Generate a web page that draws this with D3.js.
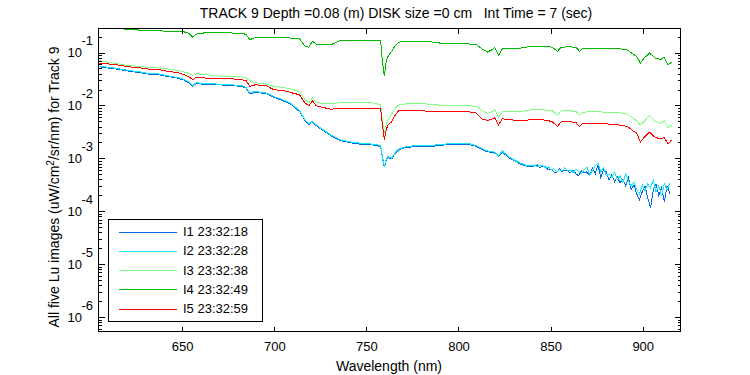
<!DOCTYPE html>
<html>
<head>
<meta charset="utf-8">
<script src="https://cdn.jsdelivr.net/npm/d3@7"></script>
<style>
    body { margin: 0; background: #fff; }
    text { font-family: "Liberation Sans", Arial, sans-serif; font-size: 13px; fill: #000; }
</style>
</head>
<body>
<div id="chart"></div>
<script>
// wavelength grid (nm) shared by I3, I4, I5
const wavelengths = [605, 611, 616, 621, 627, 632, 638, 643, 648, 651,
    654, 656, 658, 663, 670, 677, 683, 685, 687, 690,
    696, 700, 705, 709, 714, 717, 719, 721, 723, 726,
    731, 736, 742, 748, 754, 758, 759, 760, 761, 762,
    764, 766, 768, 772, 778, 785, 792, 799, 805, 810,
    813, 816, 818, 820, 822, 824, 828, 834, 840, 846,
    851, 854, 856, 860, 864, 866, 868, 873, 880, 887,
    892, 895, 897, 899, 901, 904, 907, 910, 912, 914, 916];

// finer grid used by I1 and I2 (noisy tail)
const wavelengthsFine = [605, 611, 616, 621, 627, 632, 638, 643, 648, 651,
    654, 656, 658, 663, 670, 677, 683, 685, 687, 690,
    696, 700, 705, 709, 714, 717, 719, 721, 723, 726,
    731, 736, 742, 748, 754, 758, 759, 760, 761, 762,
    764, 766, 768, 772, 778, 785, 792, 799, 805, 810,
    813, 816, 818, 820, 822, 824, 828, 834, 838,
    840, 841.5, 843, 844.5, 846, 847.5, 849, 850.5, 852, 853.5,
    855, 856.5, 858, 859.5, 861, 862.5, 864, 865.5, 867, 868.5,
    870, 871.5, 873, 874.5, 876, 877.5, 879, 880.5, 882, 883.5,
    885, 886.5, 888, 889.5, 891, 892.5, 894, 895.5, 897, 898.5,
    900, 901.5, 903, 904.5, 906, 907.5, 909, 910.5, 912, 913.5, 915];

// Lu values (uW/cm^2/sr/nm)
const lu1 = [0.0530, 0.0495, 0.0470, 0.0438, 0.0410, 0.0382, 0.0370, 0.0342, 0.0320, 0.0298,
    0.0262, 0.0228, 0.0255, 0.0244, 0.0240, 0.0233, 0.0224, 0.0207, 0.0163, 0.0174,
    0.0162, 0.0140, 0.0120, 0.0105, 0.0075, 0.00508, 0.00425, 0.00470, 0.00408, 0.00343,
    0.00262, 0.00213, 0.00192, 0.00180, 0.00175, 0.00165, 0.00102, 0.000665, 0.00090, 0.00102,
    0.000955, 0.00123, 0.00143, 0.00158, 0.00165, 0.00164, 0.00175, 0.00180, 0.00182, 0.00165,
    0.00143, 0.00131, 0.00127, 0.00123, 0.00105, 0.00130, 0.00098, 0.000765, 0.000680,
    6.78e-4, 7.08e-4, 7.38e-4, 6.49e-4, 7.08e-4, 6.78e-4, 5.94e-4, 6.21e-4, 5.45e-4, 5.22e-4,
    6.21e-4, 5.45e-4, 5.94e-4, 5.69e-4, 5.22e-4, 5.94e-4, 5.00e-4, 4.58e-4, 5.69e-4, 5.22e-4,
    5.45e-4, 4.58e-4, 6.49e-4, 5.00e-4, 7.38e-4, 4.20e-4, 5.94e-4, 5.45e-4, 3.85e-4, 4.78e-4,
    3.53e-4, 4.38e-4, 3.38e-4, 4.02e-4, 2.96e-4, 4.20e-4, 2.49e-4, 3.09e-4, 2.09e-4, 1.61e-4,
    2.28e-4, 2.96e-4, 1.76e-4, 1.14e-4, 2.49e-4, 3.23e-4, 1.92e-4, 2.72e-4, 1.48e-4, 2.96e-4, 2.09e-4];

const lu2 = [0.0544, 0.0512, 0.0483, 0.0449, 0.0424, 0.0394, 0.0384, 0.0352, 0.0331, 0.0309,
    0.0271, 0.0234, 0.0263, 0.0252, 0.0248, 0.0241, 0.0231, 0.0214, 0.0168, 0.0180,
    0.0168, 0.0145, 0.0125, 0.0109, 0.0078, 0.00525, 0.0044, 0.00488, 0.00422, 0.00355,
    0.00271, 0.0022, 0.0020, 0.00187, 0.00182, 0.00171, 0.00106, 0.000687, 0.00093, 0.00106,
    0.000989, 0.00128, 0.00149, 0.00164, 0.00171, 0.00171, 0.00182, 0.00187, 0.0019, 0.00171,
    0.00149, 0.00136, 0.00132, 0.00128, 0.00109, 0.00136, 0.00102, 0.000796, 0.000706,
    7.08e-4, 7.38e-4, 6.78e-4, 7.38e-4, 7.08e-4, 6.49e-4, 6.78e-4, 5.94e-4, 6.21e-4, 5.45e-4,
    5.94e-4, 5.69e-4, 6.49e-4, 5.69e-4, 5.94e-4, 5.22e-4, 6.21e-4, 5.45e-4, 5.00e-4, 5.94e-4,
    6.78e-4, 4.78e-4, 5.69e-4, 7.08e-4, 8.05e-4, 5.45e-4, 6.49e-4, 4.58e-4, 5.00e-4, 4.20e-4,
    5.45e-4, 3.85e-4, 4.58e-4, 3.38e-4, 5.00e-4, 3.68e-4, 2.96e-4, 3.53e-4, 2.49e-4, 2.09e-4,
    3.09e-4, 2.38e-4, 3.23e-4, 2.72e-4, 3.85e-4, 2.28e-4, 2.96e-4, 1.92e-4, 3.23e-4, 2.49e-4, 3.38e-4];

const lu3 = [0.0685, 0.0636, 0.0593, 0.0558, 0.0535, 0.0512, 0.0498, 0.0477, 0.0449, 0.0424,
    0.0394, 0.0361, 0.0389, 0.0378, 0.0352, 0.0352, 0.0337, 0.0322, 0.0287, 0.0263,
    0.0248, 0.0224, 0.0214, 0.0202, 0.0180, 0.0125, 0.0109, 0.0135, 0.0113, 0.0107,
    0.0107, 0.0110, 0.0109, 0.0109, 0.0109, 0.0101, 0.00488, 0.00294, 0.00422, 0.00525,
    0.00672, 0.00873, 0.0101, 0.0105, 0.0105, 0.0104, 0.00975, 0.00975, 0.0097, 0.0094,
    0.0078, 0.00702, 0.0074, 0.0081, 0.0059, 0.0074, 0.0074, 0.00753, 0.0081, 0.0081,
    0.0078, 0.00632, 0.0078, 0.0078, 0.00753, 0.00632, 0.0073, 0.00753, 0.0073, 0.00723,
    0.0067, 0.0057, 0.0050, 0.00422, 0.00488, 0.00632, 0.00488, 0.00454, 0.0050, 0.00366, 0.00422];

const lu4 = [0.30, 0.278, 0.275, 0.270, 0.260, 0.256, 0.252, 0.246, 0.243, 0.242,
    0.225, 0.192, 0.218, 0.232, 0.232, 0.229, 0.224, 0.215, 0.171, 0.188,
    0.190, 0.192, 0.188, 0.184, 0.178, 0.128, 0.124, 0.159, 0.142, 0.137,
    0.137, 0.164, 0.166, 0.166, 0.168, 0.164, 0.066, 0.0346, 0.066, 0.0826,
    0.103, 0.133, 0.154, 0.159, 0.159, 0.156, 0.145, 0.143, 0.143, 0.137,
    0.115, 0.100, 0.108, 0.122, 0.0862, 0.114, 0.119, 0.119, 0.128, 0.128,
    0.124, 0.103, 0.123, 0.126, 0.123, 0.103, 0.119, 0.119, 0.117, 0.116,
    0.109, 0.0917, 0.0826, 0.0619, 0.077, 0.0957, 0.077, 0.0724, 0.079, 0.0575, 0.0647];

const lu5 = [0.0619, 0.0593, 0.0567, 0.0527, 0.0505, 0.0477, 0.0462, 0.0430, 0.0406, 0.0377,
    0.0341, 0.0299, 0.0337, 0.0322, 0.0320, 0.0313, 0.0299, 0.0287, 0.0224, 0.0241,
    0.0231, 0.0194, 0.0188, 0.0172, 0.0156, 0.0109, 0.00964, 0.0120, 0.00964, 0.0091,
    0.0083, 0.00873, 0.00873, 0.00873, 0.0085, 0.0084, 0.00422, 0.0022, 0.00339, 0.00422,
    0.0048, 0.00652, 0.0079, 0.0080, 0.0079, 0.00753, 0.0075, 0.0075, 0.00753, 0.00702,
    0.00539, 0.0051, 0.00539, 0.0057, 0.00422, 0.00548, 0.00525, 0.0051, 0.00525, 0.00525,
    0.00488, 0.00392, 0.00488, 0.00488, 0.00466, 0.00392, 0.00454, 0.00454, 0.0044, 0.00422,
    0.00392, 0.00325, 0.00294, 0.00200, 0.00244, 0.00307, 0.00244, 0.00229, 0.00244, 0.00182, 0.0022];

const seriesNames = ["I1 23:32:18", "I2 23:32:28", "I3 23:32:38", "I4 23:32:49", "I5 23:32:59"];
const seriesColors = ["#0a6cdc", "#14e6ff", "#80ff80", "#00bb00", "#ff0000"];
const xTicks = [650, 700, 750, 800, 850, 900];
const yDecades = [-6, -5, -4, -3, -2, -1];

const series = [
    {name: seriesNames[0], color: seriesColors[0], x: wavelengthsFine, y: lu1},
    {name: seriesNames[1], color: seriesColors[1], x: wavelengthsFine, y: lu2},
    {name: seriesNames[2], color: seriesColors[2], x: wavelengths, y: lu3},
    {name: seriesNames[3], color: seriesColors[3], x: wavelengths, y: lu4},
    {name: seriesNames[4], color: seriesColors[4], x: wavelengths, y: lu5}
];

const width = 750, height = 375;
const margin = {top: 28, right: 70, bottom: 44, left: 98};
const plotW = width - margin.left - margin.right;
const plotH = height - margin.top - margin.bottom;

const svg = d3.select("#chart").append("svg")
    .attr("width", width)
    .attr("height", height);

const x = d3.scaleLinear().domain([604.6, 920.5]).range([margin.left, margin.left + plotW]);
const y = d3.scaleLog().domain([Math.pow(10, -6.27), Math.pow(10, -0.546)])
    .range([margin.top + plotH, margin.top]);

// clip for data lines
svg.append("clipPath").attr("id", "clip")
    .append("rect")
    .attr("x", margin.left).attr("y", margin.top)
    .attr("width", plotW).attr("height", plotH);

const line = d3.line()
    .x(d => x(d[0]))
    .y(d => y(d[1]));

svg.append("g").attr("clip-path", "url(#clip)")
    .selectAll("path")
    .data(series)
    .enter().append("path")
    .attr("fill", "none")
    .attr("stroke", d => d.color)
    .attr("stroke-width", 1)
    .attr("shape-rendering", "crispEdges")
    .attr("d", d => line(d.x.map((w, i) => [w, d.y[i]])));

// box
const axes = svg.append("g").attr("shape-rendering", "crispEdges");
axes.append("rect")
    .attr("x", margin.left + 0.5).attr("y", margin.top + 0.5)
    .attr("width", plotW).attr("height", plotH)
    .attr("fill", "none").attr("stroke", "#000");

// x axis: inward ticks bottom and top
const xAxisB = d3.axisBottom(x).tickValues(xTicks).tickSize(-5).tickPadding(10);
const gxb = axes.append("g")
    .attr("transform", `translate(0.5,${margin.top + plotH + 0.5})`)
    .call(xAxisB);
gxb.select(".domain").remove();
gxb.selectAll("text").style("font-size", "13px").attr("font-family", null);

const xAxisT = d3.axisTop(x).tickValues(xTicks).tickSize(-5).tickFormat("");
const gxt = axes.append("g")
    .attr("transform", `translate(0.5,${margin.top + 0.5})`)
    .call(xAxisT);
gxt.select(".domain").remove();

// y axis: log ticks, major and minor, inward left and right
const minorVals = [];
const majorVals = [];
yDecades.forEach(e => {
    majorVals.push(Math.pow(10, e));
    for (let k = 2; k <= 9; k++) minorVals.push(k * Math.pow(10, e));
});
minorVals.push(6e-7, 7e-7, 8e-7, 9e-7);
const inY = v => v >= y.domain()[0] && v <= y.domain()[1];

[[d3.axisLeft, margin.left], [d3.axisRight, margin.left + plotW]].forEach(([fn, px]) => {
    const gMinor = axes.append("g")
        .attr("transform", `translate(${px + 0.5},0.5)`)
        .call(fn(y).tickValues(minorVals.filter(inY)).tickSize(-3).tickFormat(""));
    gMinor.select(".domain").remove();
    const gMajor = axes.append("g")
        .attr("transform", `translate(${px + 0.5},0.5)`)
        .call(fn(y).tickValues(majorVals).tickSize(-6).tickFormat(""));
    gMajor.select(".domain").remove();
});

// y tick labels as 10^n
const yLab = svg.append("g");
yDecades.forEach(e => {
    const py = y(Math.pow(10, e));
    yLab.append("text")
        .attr("x", 82).attr("y", py + 5)
        .attr("text-anchor", "end")
        .text("10");
    yLab.append("text")
        .attr("x", 81.5).attr("y", py - 7)
        .text(String(e));
});

// title and labels
svg.append("text")
    .attr("x", 396).attr("y", 18)
    .attr("text-anchor", "middle")
    .style("white-space", "pre")
    .style("font-size", "14px")
    .text("TRACK 9 Depth =0.08 (m) DISK size =0 cm   Int Time = 7 (sec)");

svg.append("text")
    .attr("x", margin.left + plotW / 2).attr("y", 371)
    .attr("text-anchor", "middle")
    .style("font-size", "14px")
    .text("Wavelength (nm)");

const yl = svg.append("text")
    .attr("transform", `translate(59,187) rotate(-90)`)
    .attr("text-anchor", "middle")
    .style("font-size", "14px");
yl.append("tspan").text("All five Lu images (uW/cm");
yl.append("tspan").attr("dy", -5).style("font-size", "10px").text("2");
yl.append("tspan").attr("dy", 5).text("/sr/nm) for Track 9");

// legend
const lg = svg.append("g");
lg.append("rect")
    .attr("x", 108.5).attr("y", 219.5)
    .attr("width", 154).attr("height", 102)
    .attr("fill", "#fff").attr("stroke", "#000")
    .attr("shape-rendering", "crispEdges");
series.forEach((s, i) => {
    const ly = 231.5 + i * 19.3;
    lg.append("line")
        .attr("x1", 119).attr("x2", 177)
        .attr("y1", Math.round(ly) + 0.5).attr("y2", Math.round(ly) + 0.5)
        .attr("stroke", s.color)
        .attr("shape-rendering", "crispEdges");
    lg.append("text")
        .attr("x", 183).attr("y", ly + 4.5)
        .text(s.name);
});
</script>
</body>
</html>
